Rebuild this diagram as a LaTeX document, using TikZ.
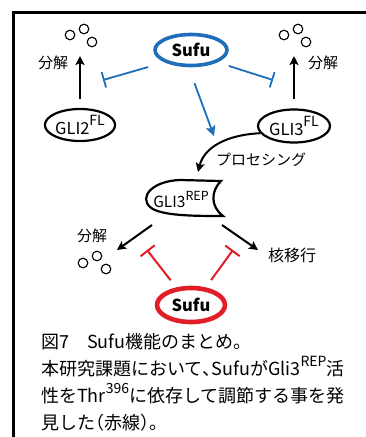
\documentclass[tikz,border=0pt]{standalone}
\usepackage{fontspec}
\setmainfont{Noto Sans CJK JP}
\usetikzlibrary{arrows.meta,shapes.geometric}
\definecolor{sblue}{RGB}{30,110,185}
\definecolor{sred}{RGB}{225,30,40}
\newcommand{\supr}[1]{\raisebox{0.5em}{\fontsize{14}{14}\selectfont #1}}
\newcommand{\suprs}[1]{\raisebox{0.45em}{\fontsize{12.5}{12.5}\selectfont #1}}
\newcommand{\hw}[1]{{\addfontfeatures{RawFeature=+halt}#1}}
\tikzset{
  glinode/.style={ellipse,draw,line width=2.2pt,inner sep=0pt,font=\fontsize{16.5}{16.5}\selectfont},
  sufunode/.style={ellipse,line width=3.6pt,inner sep=0pt,font=\bfseries\fontsize{16.5}{16.5}\selectfont},
  lbl/.style={font=\fontsize{15}{15}\selectfont,inner sep=0pt},
  bub/.style={draw,line width=1.1pt},
  blk/.style={line width=2pt,-{Stealth[length=9pt,width=9pt,inset=2pt]}},
  barB/.style={draw=sblue,line width=1.8pt,-{Bar[width=16pt,line width=1.8pt]}},
  barR/.style={draw=sred,line width=2pt,-{Bar[width=18pt,line width=2pt]}},
}
\begin{document}
\begin{tikzpicture}[x=1pt,y=-1pt]
\useasboundingbox (0,0) rectangle (366,437);
\fill[white] (0,0) rectangle (366,437);
% frame
\draw[line width=2.5pt] (366,12.5) -- (13.5,12.5) -- (13.5,437);

% nodes
\node[sufunode,draw=sblue,minimum width=72pt,minimum height=31pt] (sufuB) at (191,50) {Sufu};
\node[glinode,minimum width=70pt,minimum height=32pt] (gli2) at (80,125) {GLI2\supr{FL}};
\node[glinode,minimum width=72pt,minimum height=33pt] (gli3) at (294,126) {GLI3\supr{FL}};
\node[sufunode,draw=sred,line width=4.6pt,minimum width=68pt,minimum height=34pt] (sufuR) at (191,305) {Sufu};

% GLI3 REP shape
\draw[line width=2.2pt] (221,181) .. controls (211,191) and (210,206) .. (223,216)
   .. controls (195,216) and (160,216) .. (150,207)
   .. controls (139,197) and (152,181) .. (180,180) -- cycle;
\node[inner sep=0pt,font=\fontsize{15.5}{15.5}\selectfont] (rep) at (181,200) {GLI3\suprs{REP}};

% labels
\node[lbl] (degTL) at (53,63) {分解};
\node[lbl] (degTR) at (323,63) {分解};
\node[lbl] (proc) at (261,160) {プロセシング};
\node[lbl] (degB) at (92,236) {分解};
\node[lbl,font=\fontsize{16}{16}\selectfont] (nuc) at (292,255) {核移行};

% bubbles
\foreach \x/\y in {70/35,84/29,92/42}{\draw[bub] (\x,\y) circle (4.8pt);}
\foreach \x/\y in {284/35,298/29,306/42}{\draw[bub] (\x,\y) circle (4.8pt);}
\foreach \x/\y in {83/263,97/256,106/269}{\draw[bub] (\x,\y) circle (4.8pt);}

% degradation arrows
\coordinate (upL) at (80,56);
\coordinate (upR) at (294,56);
\draw[blk,shorten <=9pt] (gli2.north) -- (upL);
\draw[blk,shorten <=9pt] (gli3.north) -- (upR);

% blue inhibitions
\coordinate (inhL) at (103,80);
\coordinate (inhR) at (273,80);
\draw[barB,shorten <=17pt] (sufuB.205) -- (inhL);
\draw[barB,shorten <=12pt] (sufuB.335) -- (inhR);

% blue arrow to processing
\coordinate (procEnd) at (214,136);
\draw[sblue,line width=1.8pt,-{Stealth[length=10pt,width=10pt,inset=2pt]},shorten <=17pt] (sufuB.262) -- (procEnd);

% processing curve
\coordinate (repTop) at (198,172);
\draw[blk] (gli3.192) .. controls (225,135) and (204,148) .. (repTop);

% GLI3REP arrows
\coordinate (repL) at (152,225);
\coordinate (repR) at (222,225);
\coordinate (tipL) at (117,250);
\coordinate (tipR) at (258,250);
\draw[blk] (repL) -- (tipL);
\draw[blk] (repR) -- (tipR);

% red inhibitions
\coordinate (rinhL) at (147,250);
\coordinate (rinhR) at (233,250);
\draw[barR,shorten <=9pt] (sufuR.130) -- (rinhL);
\draw[barR,shorten <=9pt] (sufuR.50) -- (rinhR);

% caption
\node[anchor=north west,inner sep=0pt,align=left,font=\fontsize{18}{27}\selectfont] (cap) at (41,333)
 {図7\hspace{1em}Sufu機能のまとめ。\\
  本研究課題において\hw{、}SufuがGli3\supr{REP}活\\
  性をThr\supr{396}に依存して調節する事を発\\
  見した\hw{（}赤線\hw{）}。};
\end{tikzpicture}
\end{document}
